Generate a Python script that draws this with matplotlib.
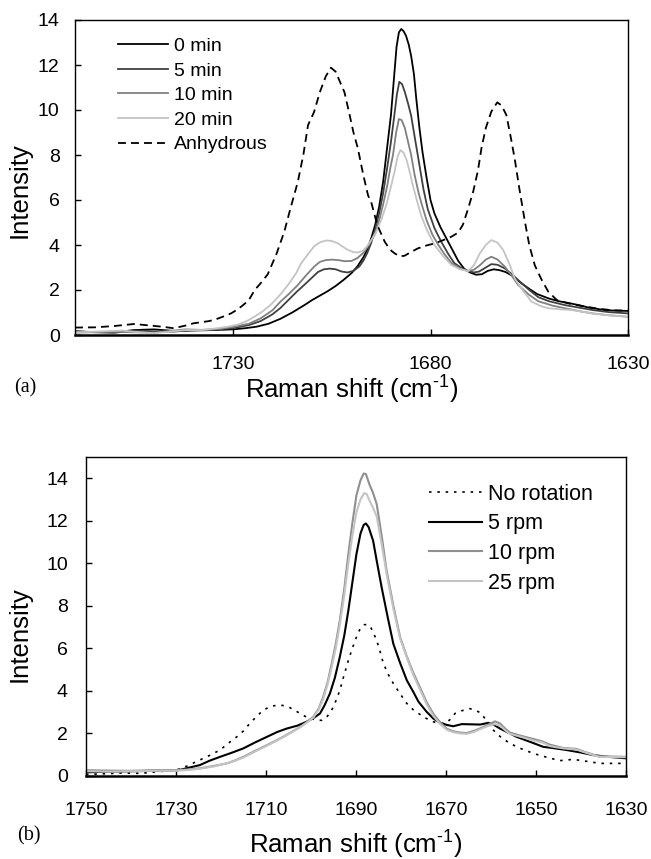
import matplotlib
matplotlib.use('Agg')
import matplotlib.pyplot as plt

plt.rcParams['font.family'] = ['Liberation Sans', 'DejaVu Sans']
plt.rcParams['mathtext.fontset'] = 'custom'
plt.rcParams['mathtext.rm'] = 'Liberation Sans'

# ---- panel (a): hydration time series (Raman shift, intensity) ----
x_0 = [1770, 1765, 1760, 1755, 1750, 1745, 1740, 1735, 1730, 1727, 1724, 1721, 1718, 1715, 1712,
       1710, 1708, 1706, 1704, 1702, 1700, 1698.5, 1697, 1696, 1695, 1694, 1693, 1692, 1691, 1690,
       1689.3, 1688.6, 1688, 1687.4, 1686.8, 1686.2, 1685.5, 1684.9, 1684.2, 1683.6, 1682.8, 1682,
       1681, 1680, 1679, 1677.5, 1676, 1674.5, 1673, 1671.5, 1670, 1668.5, 1667, 1665.5, 1664,
       1662.5, 1661, 1659, 1657, 1655, 1653, 1650, 1647.5, 1645, 1642.5, 1640, 1636, 1633, 1630]
y_0 = [0.15, 0.13, 0.12, 0.22, 0.25, 0.18, 0.2, 0.22, 0.25, 0.3, 0.37, 0.5, 0.72, 1.0, 1.32,
       1.55, 1.75, 1.95, 2.18, 2.45, 2.75, 3.05, 3.45, 3.8, 4.3, 4.9, 5.7, 6.8, 8.3, 9.8,
       11.3, 12.8, 13.45, 13.6, 13.5, 13.3, 12.9, 12.4, 11.6, 10.5, 9.2, 8.1,
       7.0, 6.0, 5.4, 4.8, 4.3, 3.8, 3.3, 2.95, 2.78, 2.68, 2.7, 2.85, 2.92,
       2.88, 2.8, 2.6, 2.3, 2.05, 1.82, 1.62, 1.5, 1.42, 1.33, 1.22, 1.11, 1.08, 1.07]

x_5 = [1770, 1765, 1760, 1755, 1750, 1745, 1740, 1735, 1730, 1726, 1723, 1720, 1718, 1716, 1714,
       1712, 1710, 1708.5, 1707, 1705.5, 1704, 1702.5, 1701, 1699.5, 1698, 1697, 1696, 1695, 1694,
       1693, 1692, 1691, 1690, 1689.2, 1688.5, 1687.9, 1687.2, 1686.5, 1685.7, 1684.9, 1684,
       1682.8, 1681.8, 1680.7, 1679, 1677.3, 1675.5, 1674, 1672, 1670.5, 1669, 1667.7, 1666,
       1664.6, 1663, 1661.2, 1659.5, 1657.8, 1655, 1652.7, 1650, 1646, 1642.5, 1639, 1635, 1630]
y_5 = [0.18, 0.12, 0.1, 0.2, 0.16, 0.15, 0.22, 0.24, 0.3, 0.44, 0.62, 0.92, 1.2, 1.55, 1.9,
       2.22, 2.55, 2.8, 2.92, 2.95, 2.92, 2.82, 2.78, 2.85, 3.05, 3.3, 3.65, 4.1, 4.7,
       5.4, 6.3, 7.4, 8.6, 9.7, 10.7, 11.25, 11.15, 10.8, 10.3, 9.75, 8.8,
       7.55, 6.5, 5.6, 4.75, 4.15, 3.6, 3.2, 2.95, 2.84, 2.78, 2.82, 3.0,
       3.15, 3.12, 2.96, 2.72, 2.44, 2.0, 1.68, 1.5, 1.33, 1.22, 1.11, 1.02, 0.96]

x_10 = [1770, 1765, 1760, 1755, 1750, 1746, 1742, 1737, 1733, 1729.7, 1726, 1723, 1720, 1718,
        1716, 1713.6, 1711.5, 1709.4, 1708, 1706.5, 1705, 1703.4, 1701.7, 1700, 1698.5, 1697,
        1696, 1695, 1694, 1693, 1692, 1691, 1690.2, 1689.5, 1688.7, 1688, 1687.3, 1686.5, 1685.7,
        1684.9, 1684, 1683, 1682.2, 1681, 1679.5, 1678, 1676.5, 1674.7, 1672.5, 1670.5, 1669,
        1667.5, 1666, 1664.6, 1663, 1661.2, 1659.5, 1657.8, 1655, 1652.7, 1649, 1646, 1642,
        1639, 1635, 1630]
y_10 = [0.1, 0.13, 0.15, 0.12, 0.1, 0.18, 0.25, 0.22, 0.28, 0.37, 0.5, 0.74, 1.1, 1.48,
        1.8, 2.22, 2.65, 3.05, 3.25, 3.33, 3.35, 3.33, 3.28, 3.29, 3.42, 3.65,
        3.9, 4.2, 4.5, 5.1, 5.8, 6.6, 7.4, 8.0, 9.0, 9.6, 9.55, 9.2, 8.6,
        8.0, 7.1, 6.3, 5.8, 5.1, 4.45, 4.0, 3.6, 3.2, 2.95, 2.85, 2.9,
        3.1, 3.35, 3.48, 3.35, 3.04, 2.65, 2.22, 1.78, 1.5, 1.3, 1.19, 1.05,
        0.96, 0.88, 0.81]

x_20 = [1770, 1765, 1758, 1754, 1750, 1746, 1742, 1738, 1734, 1731, 1728.8, 1726.5, 1724.6,
        1722.5, 1720.4, 1718, 1716.1, 1714, 1712.7, 1711, 1709.4, 1708, 1706.4, 1705, 1703.4,
        1702, 1700.9, 1699.5, 1698.4, 1697, 1695.8, 1694.7, 1693.7, 1692.5, 1691.2, 1690, 1689.1,
        1688.3, 1687.6, 1686.8, 1686, 1685.2, 1684.4, 1683.4, 1682.4, 1681, 1679, 1677, 1674.7,
        1672.5, 1670.5, 1669, 1667.6, 1666, 1664.6, 1663, 1661.6, 1660, 1658.7, 1656.5, 1654.4,
        1652, 1650.2, 1647, 1644.3, 1641, 1639.2, 1635, 1630]
y_20 = [0.12, 0.15, 0.2, 0.12, 0.08, 0.15, 0.22, 0.22, 0.3, 0.38, 0.46, 0.62, 0.81,
        1.05, 1.35, 1.8, 2.22, 2.75, 3.2, 3.6, 3.95, 4.12, 4.2, 4.18, 4.07,
        3.9, 3.78, 3.68, 3.67, 3.75, 4.0, 4.3, 4.6, 5.1, 5.78, 6.6, 7.26,
        7.95, 8.22, 8.1, 7.75, 7.2, 6.6, 5.95, 5.33, 4.7, 4.0, 3.55, 3.11,
        2.92, 2.84, 3.1, 3.6, 4.0, 4.22, 4.1, 3.78, 3.15, 2.52, 1.95, 1.48,
        1.28, 1.19, 1.14, 1.11, 1.02, 0.96, 0.88, 0.81]

x_anh = [1770, 1765, 1760, 1755, 1751, 1748, 1745, 1742, 1740, 1738, 1736, 1734, 1732, 1730.5,
         1729, 1727.5, 1726, 1724.5, 1723, 1721.2, 1719, 1717, 1715.5, 1713.6, 1712.2, 1711,
         1709.5, 1708, 1706.5, 1705.2, 1704, 1702.8, 1701.8, 1700.5, 1699.5, 1698.4, 1697, 1695.8,
         1695, 1693.5, 1692.5, 1691.6, 1690.3, 1689.1, 1687.8, 1686.6, 1685, 1683.2, 1681, 1679,
         1677, 1674.7, 1673, 1671.8, 1670.5, 1669.2, 1668, 1667.1, 1666, 1664.6, 1663.1, 1662,
         1660.8, 1659.8, 1658.7, 1657.5, 1656.1, 1655, 1653.6, 1652, 1650.2, 1648, 1645, 1642,
         1638, 1634, 1630]
y_anh = [0.33, 0.34, 0.4, 0.49, 0.42, 0.37, 0.3, 0.42, 0.52, 0.57, 0.62, 0.72, 0.85, 0.96,
         1.12, 1.32, 1.55, 2.0, 2.3, 2.7, 3.6, 4.6, 5.6, 6.8, 8.0, 9.33,
         9.9, 10.8, 11.5, 11.88, 11.7, 11.2, 10.8, 9.8, 9.0, 8.3, 7.1, 6.2,
         5.9, 4.9, 4.5, 4.15, 3.8, 3.63, 3.5, 3.52, 3.68, 3.85, 3.98, 4.07,
         4.2, 4.37, 4.55, 4.9, 5.6, 6.37, 7.3, 8.3, 9.2, 9.93, 10.34, 10.2,
         9.78, 8.9, 7.85, 6.5, 5.04, 4.0, 3.1, 2.5, 1.93, 1.55, 1.4, 1.3,
         1.18, 1.1, 1.08]

# ---- panel (b): rotation speed series ----
x_norot = [1750, 1746, 1742, 1738, 1734, 1730, 1727.5, 1724.7, 1722.5, 1720.2, 1718.5, 1716.5,
           1715, 1713.6, 1712, 1710.6, 1709, 1707.6, 1706.3, 1705, 1703.7, 1702.4, 1701, 1699.5,
           1698.5, 1697.6, 1696.5, 1695.4, 1694.5, 1693.6, 1692.7, 1691.7, 1690.8, 1689.9, 1689,
           1688.2, 1687.6, 1686.9, 1686.2, 1685.4, 1684.6, 1683.9, 1682.8, 1681.7, 1680.2, 1678.7,
           1677.3, 1676.1, 1674.5, 1672.8, 1671.3, 1670.2, 1669, 1668, 1666.5, 1664.7, 1663.5,
           1662.1, 1660.8, 1659.5, 1657.8, 1655.8, 1653.5, 1650.6, 1648, 1644.7, 1641.7, 1638.5,
           1635.8, 1630]
y_norot = [0.05, 0.08, 0.12, 0.1, 0.18, 0.25, 0.45, 0.73, 0.95, 1.2, 1.5, 1.82,
           2.1, 2.45, 2.8, 3.08, 3.25, 3.31, 3.3, 3.23, 3.08, 2.92, 2.75, 2.65,
           2.6, 2.6, 2.75, 3.08, 3.5, 4.0, 4.7, 5.42, 6.0, 6.52, 6.95,
           7.1, 7.11, 7.05, 6.75, 6.36, 5.8, 5.27, 4.75, 4.33, 3.85, 3.39,
           3.1, 2.92, 2.7, 2.53, 2.45, 2.45, 2.65, 2.92, 3.05, 3.15, 3.08,
           2.92, 2.5, 2.14, 1.8, 1.51, 1.28, 1.04, 0.88, 0.7, 0.76, 0.66,
           0.57, 0.57]

x_5rpm = [1750, 1745, 1740, 1735, 1730, 1727.5, 1724.7, 1722.5, 1720.2, 1717.5, 1715, 1712.5,
          1709.8, 1707.5, 1705.4, 1703, 1701, 1699.5, 1698, 1697, 1695.8, 1694.7, 1693.6, 1692.6,
          1691.7, 1690.8, 1689.9, 1689, 1688.3, 1687.8, 1687.2, 1686.2, 1685.3, 1684.3, 1683,
          1681.7, 1680.2, 1678.7, 1677.3, 1676.1, 1674.3, 1672.8, 1671.3, 1669.8, 1668.4, 1666.5,
          1664.5, 1662.4, 1660.6, 1659.3, 1658, 1656, 1654.3, 1651.5, 1648.4, 1645.8, 1643.2,
          1640, 1637.3, 1634, 1630]
y_5rpm = [0.15, 0.18, 0.2, 0.22, 0.22, 0.35, 0.49, 0.7, 0.88, 1.08, 1.28, 1.55,
          1.82, 2.05, 2.21, 2.35, 2.53, 2.7, 2.92, 3.3, 3.86, 4.6, 5.58, 6.6,
          7.77, 9.1, 10.43, 11.4, 11.8, 11.87, 11.7, 11.06, 10.0, 8.86, 7.5,
          6.2, 5.3, 4.48, 3.95, 3.47, 3.0, 2.68, 2.48, 2.38, 2.32, 2.42,
          2.41, 2.4, 2.48, 2.38, 2.21, 2.0, 1.82, 1.6, 1.35, 1.28, 1.2,
          1.08, 0.96, 0.88, 0.81]

x_10rpm = [1750, 1745, 1740, 1735, 1730, 1727.5, 1724.7, 1721.5, 1718.7, 1717, 1715, 1712.5,
           1709.8, 1708, 1706.2, 1704.3, 1702.4, 1701, 1699.5, 1698.3, 1697.3, 1696.3, 1695.4,
           1694.5, 1693.6, 1692.6, 1691.7, 1690.8, 1689.9, 1689, 1688.3, 1687.8, 1687, 1686.2,
           1685.4, 1684.3, 1683.2, 1681.7, 1680.2, 1678.7, 1677.3, 1676, 1674.3, 1672.8, 1671.3,
           1669.8, 1668.4, 1666.8, 1665.4, 1663.8, 1662.4, 1660.8, 1659.1, 1658, 1656.8, 1655.8,
           1653, 1650.6, 1648.5, 1646.9, 1644, 1641, 1639, 1636, 1630]
y_10rpm = [0.25, 0.23, 0.22, 0.25, 0.25, 0.28, 0.34, 0.45, 0.57, 0.7, 0.88, 1.15,
           1.43, 1.62, 1.82, 2.05, 2.29, 2.5, 2.76, 3.15, 3.7, 4.4, 5.27,
           6.2, 7.3, 8.8, 10.43, 11.9, 13.2, 13.9, 14.22, 14.2, 13.7, 13.3,
           12.78, 11.3, 9.65, 8.0, 6.52, 5.6, 4.85, 4.25, 3.45, 2.9, 2.5,
           2.2, 2.08, 2.02, 2.0, 2.1, 2.22, 2.38, 2.55, 2.45, 2.2, 2.02,
           1.85, 1.72, 1.6, 1.45, 1.3, 1.25, 1.1, 0.9, 0.88]

x_25rpm = [1750, 1745, 1740, 1735, 1730, 1727.5, 1724.7, 1721.5, 1718.7, 1717, 1715, 1712.5,
           1709.8, 1708, 1706.2, 1704.3, 1702.4, 1701, 1699.5, 1698.3, 1697.3, 1696.3, 1695.4,
           1694.5, 1693.6, 1692.6, 1691.7, 1690.8, 1689.9, 1689, 1688.2, 1687.6, 1686.9, 1686.2,
           1685.4, 1684.3, 1683.2, 1681.7, 1680.2, 1678.7, 1677.3, 1676, 1674.3, 1672.8, 1671.3,
           1669.8, 1668.4, 1666.8, 1665.4, 1663.8, 1662.4, 1660.8, 1659.1, 1658, 1656.8, 1655.8,
           1653, 1650.6, 1648.5, 1646.9, 1644, 1641, 1639, 1636, 1630]
y_25rpm = [0.2, 0.18, 0.2, 0.22, 0.22, 0.26, 0.32, 0.43, 0.58, 0.68, 0.85, 1.12,
           1.4, 1.6, 1.8, 2.03, 2.27, 2.48, 2.72, 3.1, 3.6, 4.3, 5.1,
           6.0, 7.1, 8.5, 10.0, 11.3, 12.4, 13.0, 13.3, 13.25, 12.9, 12.6,
           12.2, 10.9, 9.5, 7.85, 6.45, 5.55, 4.75, 4.15, 3.35, 2.8, 2.42,
           2.15, 2.04, 1.98, 1.96, 2.05, 2.18, 2.32, 2.42, 2.35, 2.12, 1.96,
           1.8, 1.65, 1.55, 1.38, 1.28, 1.22, 1.08, 0.88, 0.86]

ticks_a = [1730, 1680, 1630]
ticks_b = [1750, 1730, 1710, 1690, 1670, 1650, 1630]
yticks = [0, 2, 4, 6, 8, 10, 12, 14]
xlabel_text = r'Raman shift (cm$^{\text{-1}}$)'

fig = plt.figure(figsize=(6.51, 8.59), dpi=100)
W, H = 651, 859


def px_axes(left, top, right, bottom):
    return fig.add_axes([left / W, 1 - bottom / H, (right - left) / W, (bottom - top) / H])


def style(ax):
    for s in ax.spines.values():
        s.set_linewidth(1.0)
    ax.spines['bottom'].set_linewidth(1.8)
    ax.tick_params(direction='in', length=4, width=1, labelsize=14, colors='black')
    ax.set_yticks(yticks)


# top panel
ax1 = px_axes(75, 20, 628, 335)
ax1.plot(x_0, y_0, color='#000000', lw=1.3, label='0 min')
ax1.plot(x_5, y_5, color='#404040', lw=1.3, label='5 min')
ax1.plot(x_10, y_10, color='#808080', lw=1.3, label='10 min')
ax1.plot(x_20, y_20, color='#c4c4c4', lw=1.3, label='20 min')
ax1.plot(x_anh, y_anh, color='#000000', lw=1.3, dashes=(4.4, 2.8), label='Anhydrous')
ax1.set_xlim(1770, 1630)
ax1.set_ylim(0, 14)
ax1.set_xticks(ticks_a)
style(ax1)
ax1.tick_params(axis='x', pad=15)
ax1.tick_params(axis='y', pad=11)
ax1.set_xlabel(xlabel_text, fontsize=18.5, va='center')
ax1.xaxis.set_label_coords(0.5, -0.171)
ax1.set_ylabel('Intensity', fontsize=18.5, va='center', ha='center')
ax1.yaxis.set_label_coords(-0.0995, 0.46)
ax1.legend(loc='upper left', bbox_to_anchor=(0.0778, 0.945), frameon=False, fontsize=14,
           borderpad=0, borderaxespad=0, labelspacing=0.36, handlelength=2.57, handletextpad=0.31)
fig.text(14 / W, 1 - 388 / H, '(a)', family=['Liberation Serif', 'DejaVu Serif'], fontsize=14.5,
         ha='left', va='center')

# bottom panel
ax2 = px_axes(86, 457, 626, 775.5)
ax2.plot(x_norot, y_norot, color='#000000', lw=1.2, dashes=(1.5, 3.5), label='No rotation')
ax2.plot(x_5rpm, y_5rpm, color='#000000', lw=1.5, label='5 rpm')
ax2.plot(x_10rpm, y_10rpm, color='#909090', lw=1.5, label='10 rpm')
ax2.plot(x_25rpm, y_25rpm, color='#c4c4c4', lw=1.5, label='25 rpm')
ax2.set_xlim(1750, 1630)
ax2.set_ylim(0, 15)
ax2.set_xticks(ticks_b)
style(ax2)
ax2.tick_params(axis='x', pad=19)
ax2.tick_params(axis='y', pad=13)
ax2.set_xlabel(xlabel_text, fontsize=18.5, va='center')
ax2.xaxis.set_label_coords(0.5, -0.214)
ax2.set_ylabel('Intensity', fontsize=18.5, va='center', ha='center')
ax2.yaxis.set_label_coords(-0.122, 0.444)
ax2.legend(loc='upper left', bbox_to_anchor=(0.635, 0.916), frameon=False, fontsize=15.5,
           borderpad=0, borderaxespad=0, labelspacing=0.40, handlelength=2.46, handletextpad=0.28)
fig.text(17 / W, 1 - 836 / H, '(b)', family=['Liberation Serif', 'DejaVu Serif'], fontsize=14.5,
         ha='left', va='center')

fig.savefig('out.png', dpi=100)
